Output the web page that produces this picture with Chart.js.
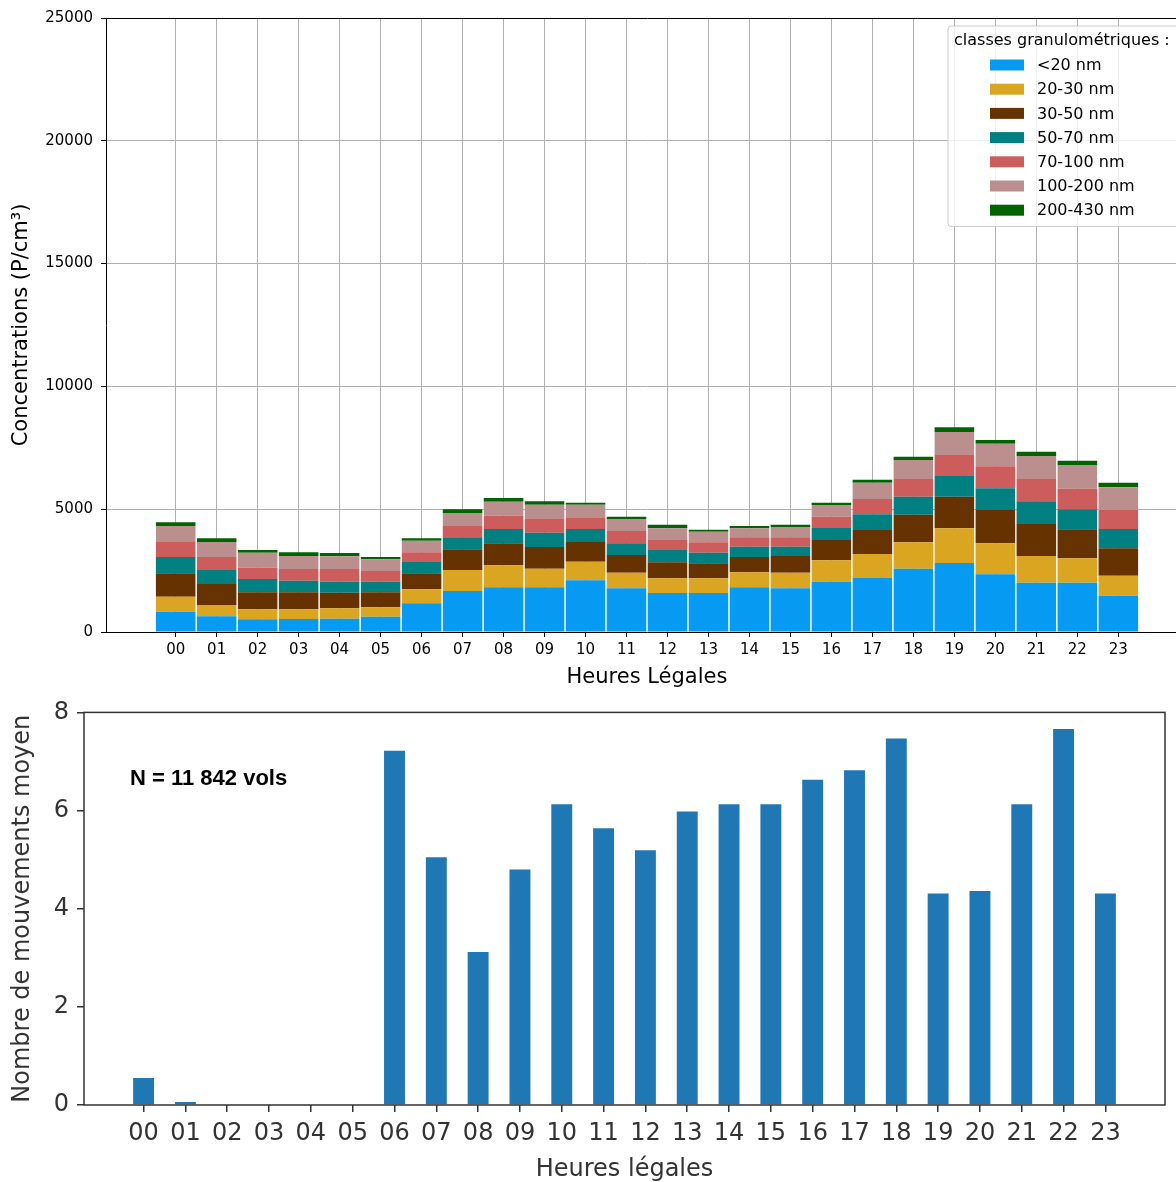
<!DOCTYPE html>
<html>
<head>
<meta charset="utf-8">
<script src="https://cdn.jsdelivr.net/npm/chart.js@4.4.1/dist/chart.umd.min.js"></script>
<style>
  html, body { margin: 0; padding: 0; background: #fff; overflow: hidden; width: 1176px; height: 1182px; }
  #top { position: absolute; left: 0; top: 0; width: 1200px; height: 690px; }
  #bottom { position: absolute; left: 0; top: 690px; width: 1176px; height: 492px; }
</style>
</head>
<body>
<div id="top"><canvas id="concChart" width="1200" height="690"></canvas></div>
<div id="bottom"><canvas id="moveChart" width="1176" height="492"></canvas></div>
<script>
// Hours of the day (local time)
const hours = ['00','01','02','03','04','05','06','07','08','09','10','11',
               '12','13','14','15','16','17','18','19','20','21','22','23'];

// Particle size classes
const sizeClasses = ['<20 nm', '20-30 nm', '30-50 nm', '50-70 nm', '70-100 nm', '100-200 nm', '200-430 nm'];

// Mean concentrations per class (P/cm3), by hour
const lt20     = [828, 638, 516, 530, 543, 624, 1167, 1669, 1819, 1819, 2104, 1778, 1588, 1588, 1819, 1778, 2049, 2199, 2579, 2809, 2348, 2009, 2009, 1479];
const c20_30   = [611, 461, 407, 393, 421, 380, 570, 855, 895, 760, 760, 638, 598, 598, 611, 638, 869, 977, 1072, 1412, 1262, 1085, 991, 815];
const c30_50   = [950, 855, 692, 692, 637, 611, 652, 842, 896, 882, 800, 719, 651, 610, 624, 678, 828, 977, 1126, 1289, 1357, 1303, 1180, 1113];
const c50_70   = [665, 570, 543, 475, 448, 434, 461, 489, 584, 584, 530, 475, 502, 434, 421, 381, 488, 638, 733, 842, 882, 923, 815, 787];
const c70_100  = [610, 530, 461, 475, 516, 435, 394, 461, 542, 556, 448, 502, 407, 421, 380, 380, 462, 624, 720, 855, 896, 910, 840, 773];
const c100_200 = [652, 610, 611, 529, 516, 475, 475, 529, 570, 583, 542, 489, 475, 434, 366, 420, 475, 665, 773, 936, 923, 936, 965, 923];
const c200_430 = [151, 150, 109, 150, 135, 95, 95, 150, 150, 136, 82, 95, 149, 82, 95, 95, 95, 122, 136, 190, 150, 177, 176, 190];

// Mean number of aircraft movements, by hour
const movements = [0.55, 0.06, 0, 0, 0, 0, 7.22, 5.05, 3.12, 4.80, 6.13, 5.64, 5.19, 5.98, 6.13, 6.13, 6.63, 6.82, 7.47, 4.31, 4.36, 6.13, 7.66, 4.31];

const concTicks = [0, 5000, 10000, 15000, 20000, 25000];
const moveTicks = [0, 2, 4, 6, 8];

const classSeries = [lt20, c20_30, c30_50, c50_70, c70_100, c100_200, c200_430];
const classColors = ['#069AF3', '#DAA520', '#663300', '#008080', '#CD5C5C', '#BC8F8F', '#006400'];

const hourTicks = (scale) => { scale.ticks = hours.map((h, i) => ({ value: i })); };

// Boxed legend in the upper-right corner of the plot area
const classLegend = {
  id: 'classLegend',
  afterDraw(chart) {
    const ctx = chart.ctx;
    const area = chart.chartArea;
    const left = 948, top = area.top + 8;
    const right = area.right - 7;
    const rowH = 24.2;
    const n = chart.data.datasets.length;
    const bottom = top + 33 + n * rowH - 2;
    ctx.save();
    ctx.beginPath();
    ctx.roundRect(left, top, right - left, bottom - top, 3);
    ctx.fillStyle = 'rgba(255,255,255,0.8)';
    ctx.fill();
    ctx.strokeStyle = '#cccccc';
    ctx.lineWidth = 1;
    ctx.stroke();
    ctx.font = '16px "DejaVu Sans"';
    ctx.fillStyle = '#000';
    ctx.textBaseline = 'middle';
    ctx.textAlign = 'left';
    ctx.fillText('classes granulométriques :', left + 6, top + 15);
    chart.data.datasets.forEach((ds, k) => {
      const y = top + 39 + k * rowH;
      ctx.fillStyle = ds.backgroundColor;
      ctx.fillRect(990, y - 5.5, 34, 11);
      ctx.fillStyle = '#000';
      ctx.fillText(ds.label, 1037, y + 1);
    });
    ctx.restore();
  }
};

new Chart(document.getElementById('concChart'), {
  type: 'bar',
  data: {
    datasets: classSeries.map((vals, k) => ({
      label: sizeClasses[k],
      data: vals.map((v, i) => ({ x: i, y: v })),
      backgroundColor: classColors[k],
      borderWidth: 0,
      barPercentage: 0.965,
      categoryPercentage: 1
    }))
  },
  options: {
    responsive: false,
    animation: false,
    events: [],
    layout: { padding: { left: 0, top: 18, right: 12, bottom: 0 } },
    plugins: { legend: { display: false }, tooltip: { enabled: false } },
    scales: {
      x: {
        type: 'linear', stacked: true, min: -1.7, max: 24.7, offset: false,
        afterBuildTicks: hourTicks,
        afterFit: (s) => { s.height = 58; },
        ticks: { callback: (v) => hours[v], font: { family: 'DejaVu Sans', size: 15 }, color: '#000', padding: 4, autoSkip: false, maxRotation: 0 },
        grid: { offset: false, color: '#b0b0b0', tickColor: '#000', tickLength: 5 },
        border: { color: '#000' },
        title: { display: true, text: 'Heures Légales', font: { family: 'DejaVu Sans', size: 21 }, color: '#000', padding: { top: 0, bottom: 0 } }
      },
      y: {
        stacked: true, min: 0, max: 25000,
        afterBuildTicks: (s) => { s.ticks = concTicks.map((v) => ({ value: v })); },
        afterFit: (s) => { s.width = 106; },
        ticks: { callback: (v) => String(v), font: { family: 'DejaVu Sans', size: 15 }, color: '#000', padding: 8 },
        grid: { color: (c) => (c.tick && c.tick.value === 25000 ? '#000' : '#b0b0b0'), tickColor: '#000', tickLength: 5 },
        border: { color: '#000' },
        title: { display: true, text: 'Concentrations (P/cm³)', font: { family: 'DejaVu Sans', size: 21 }, color: '#000', padding: { top: 9, bottom: 0 } }
      }
    }
  },
  plugins: [classLegend]
});

// Box frame and flight count label for the movements chart
const frame = {
  id: 'frame',
  afterDatasetsDraw(chart) {
    const { ctx, chartArea: a } = chart;
    ctx.save();
    ctx.strokeStyle = '#333';
    ctx.lineWidth = 1.5;
    ctx.strokeRect(a.left, a.top, a.right - a.left, a.bottom - a.top);
    ctx.font = 'bold 22px "Liberation Sans"';
    ctx.fillStyle = '#000';
    ctx.textBaseline = 'middle';
    ctx.textAlign = 'left';
    ctx.fillText('N = 11 842 vols', a.left + 46, a.top + 67);
    ctx.restore();
  }
};

new Chart(document.getElementById('moveChart'), {
  type: 'bar',
  data: {
    datasets: [{
      label: 'Nombre de mouvements moyen',
      data: movements.map((v, i) => ({ x: i, y: v })),
      backgroundColor: '#1f77b4',
      borderWidth: 0,
      barPercentage: 1,
      categoryPercentage: 0.5
    }]
  },
  options: {
    responsive: false,
    animation: false,
    events: [],
    layout: { padding: { left: 0, top: 21, right: 11, bottom: 0 } },
    plugins: { legend: { display: false }, tooltip: { enabled: false } },
    scales: {
      x: {
        type: 'linear', min: -1.425, max: 24.425, offset: false,
        afterBuildTicks: hourTicks,
        afterFit: (s) => { s.height = 77; },
        ticks: { callback: (v) => hours[v], font: { family: 'DejaVu Sans', size: 24 }, color: '#333', padding: 7, autoSkip: false, maxRotation: 0 },
        grid: { display: true, offset: false, drawOnChartArea: false, tickLength: 7, tickColor: '#333', lineWidth: 1.5 },
        border: { display: false },
        title: { display: true, text: 'Heures légales', font: { family: 'DejaVu Sans', size: 24 }, color: '#333', padding: { top: 0, bottom: -2 } }
      },
      y: {
        min: 0, max: 8,
        afterBuildTicks: (s) => { s.ticks = moveTicks.map((v) => ({ value: v })); },
        afterFit: (s) => { s.width = 84; },
        ticks: { font: { family: 'DejaVu Sans', size: 24 }, color: '#333', padding: 8 },
        grid: { display: true, drawOnChartArea: false, tickLength: 7, tickColor: '#333', lineWidth: 1.5 },
        border: { display: false },
        title: { display: true, text: 'Nombre de mouvements moyen', font: { family: 'DejaVu Sans', size: 24 }, color: '#333', padding: { top: 8, bottom: 0 } }
      }
    }
  },
  plugins: [frame]
});
</script>
</body>
</html>
